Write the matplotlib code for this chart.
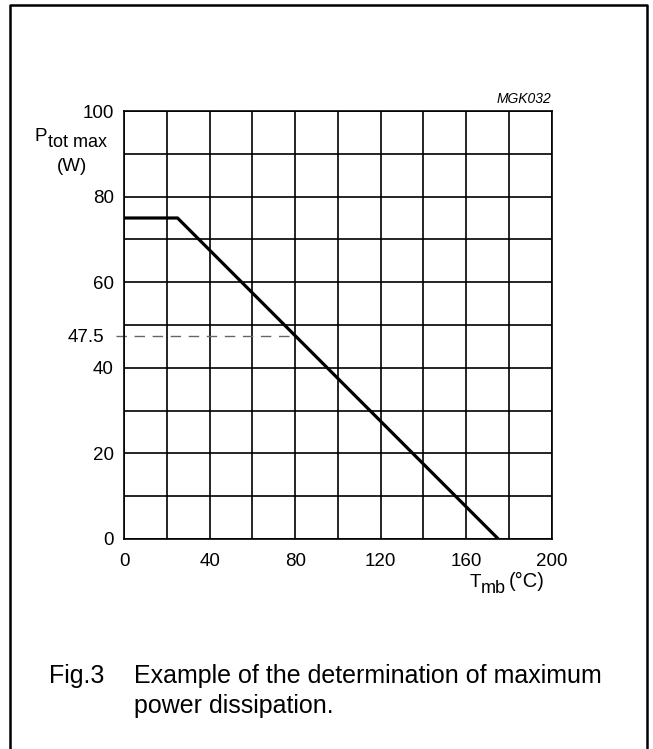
import matplotlib
matplotlib.use("Agg")
import matplotlib.pyplot as plt
from matplotlib.lines import Line2D
import numpy as np

plt.rcParams['font.family'] = ['Liberation Sans', 'DejaVu Sans']

# derating curve
temp = [0, 25, 175]
power = [75, 75, 0]

# example point
ex_temp = 80
ex_power = 47.5

x_ticks = [0, 40, 80, 120, 160, 200]
y_ticks = [0, 20, 40, 60, 80, 100]

W, H = 653, 749
fig = plt.figure(figsize=(W / 100, H / 100), dpi=100)
ax = fig.add_axes([0.190, 0.2804, 0.655, 0.5714])


def px(x, y):
    return x / W, 1 - y / H


ax.plot(temp, power, color='black', lw=2.3, solid_capstyle='butt', zorder=3)
ax.plot([-4.0, ex_temp], [ex_power, ex_power], color='#666666', lw=1.0,
        dashes=(7.5, 5.5), clip_on=False, zorder=2)
# label of the example value sits further out than the normal tick labels
ax.annotate(f'{ex_power}', xy=(0, ex_power), xycoords=('axes fraction', 'data'),
            xytext=(-14.5, 0), textcoords='offset points', ha='right',
            va='center_baseline', fontsize=13.5)

ax.set_xlim(0, 200)
ax.set_ylim(0, 100)
ax.set_xticks(x_ticks)
ax.set_yticks(y_ticks)
ax.set_xticks(np.arange(0, 201, 20), minor=True)
ax.set_yticks(np.arange(0, 101, 10), minor=True)
ax.xaxis.remove_overlapping_locs = False
ax.yaxis.remove_overlapping_locs = False
ax.grid(which='minor', color='black', lw=1.2)
ax.tick_params(which='both', length=0)
ax.tick_params(axis='y', pad=7.5, labelsize=13.5)
ax.tick_params(axis='x', pad=10, labelsize=13.5)
for s in ax.spines.values():
    s.set_linewidth(1.2)

ax.text(1.0, 1.012, 'MGK032', transform=ax.transAxes, ha='right', va='bottom',
        fontsize=10, style='italic')

# axis labels built from pieces so the subscripts stay large
fig.text(*px(35, 141), 'P', ha='left', va='baseline', fontsize=13.5)
fig.text(*px(48, 147), 'tot max', ha='left', va='baseline', fontsize=13)
fig.text(*px(72, 171), '(W)', ha='center', va='baseline', fontsize=13.5)
fig.text(*px(470, 587), 'T', ha='left', va='baseline', fontsize=13.5)
fig.text(*px(481, 593), 'mb', ha='left', va='baseline', fontsize=13)
fig.text(*px(509, 587), '(°C)', ha='left', va='baseline', fontsize=14.5)

fig.text(*px(49, 676), 'Fig.3', ha='left', va='center', fontsize=18)
fig.text(*px(134, 676), 'Example of the determination of maximum',
         ha='left', va='center', fontsize=18)
fig.text(*px(134, 706), 'power dissipation.', ha='left', va='center',
         fontsize=18)

# outer frame (open at bottom)
fx0, fx1, fy1 = 10 / W, 647 / W, 1 - 5 / H
fig.add_artist(Line2D([fx0, fx0, fx1, fx1], [0, fy1, fy1, 0],
                      transform=fig.transFigure, color='black', lw=1.8))

fig.savefig('out.png', dpi=100)
